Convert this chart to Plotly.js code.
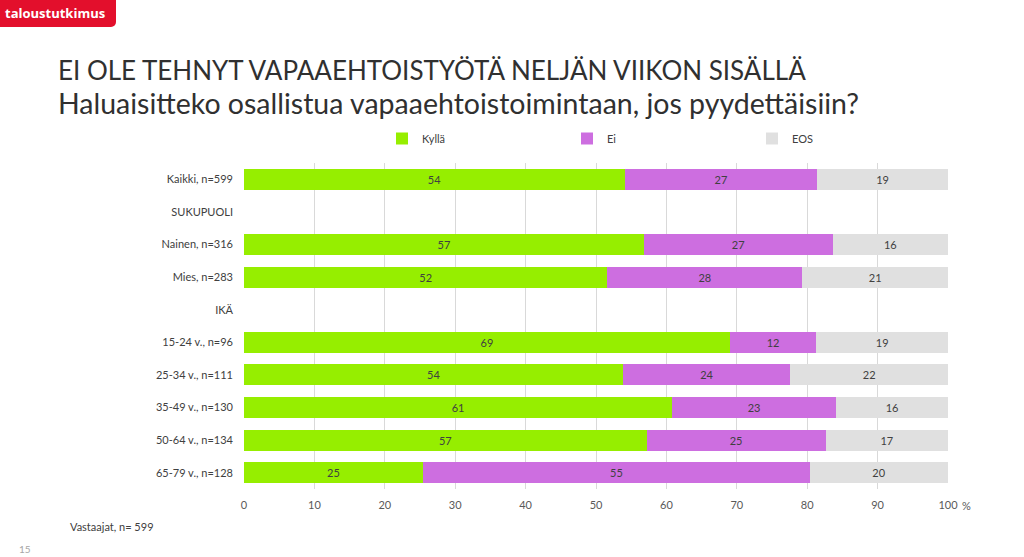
<!DOCTYPE html>
<html>
<head>
<meta charset="utf-8">
<script src="https://cdn.plot.ly/plotly-3.0.1.min.js"></script>
<style>
  html, body { margin: 0; padding: 0; background: #fff; }
  #chart { width: 1024px; height: 557px; }
  .logo {
    position: absolute; left: 0; top: 0; width: 116px; height: 27px; z-index: 10;
    background: #e30f2c; border-bottom-right-radius: 5px;
    color: #fff; font: bold 13px "Open Sans", sans-serif; line-height: 26px;
    padding-left: 5px; box-sizing: border-box;
  }
</style>
</head>
<body>
<div class="logo">taloustutkimus</div>
<div id="chart"></div>
<script>
// rows from top to bottom, group headers have no values
const categories = ['Kaikki, n=599', 'SUKUPUOLI', 'Nainen, n=316', 'Mies, n=283', 'IKÄ',
  '15-24 v., n=96', '25-34 v., n=111', '35-49 v., n=130', '50-64 v., n=134', '65-79 v., n=128'];
const kylla = [54.1, null, 56.8, 51.6, null, 69.0, 53.9, 60.8, 57.2, 25.4];
const ei    = [27.3, null, 26.8, 27.7, null, 12.3, 23.7, 23.3, 25.4, 55.0];
const eos   = [18.6, null, 16.4, 20.7, null, 18.7, 22.4, 15.9, 17.4, 19.6];
const xTicks = [0, 10, 20, 30, 40, 50, 60, 70, 80, 90, 100];

const textColor = '#404040';
const font = 'Lato, "Open Sans", sans-serif';

// plot area in pixels, used to place the loose texts in paper units
const plotL = 244, plotR = 948, plotT = 163, plotB = 489;
const px = (x) => (x - plotL) / (plotR - plotL);
const py = (y) => (plotB - y) / (plotB - plotT);

function series (name, values, color) {
  return {
    type: 'bar',
    orientation: 'h',
    name: name,
    x: values,
    y: categories,
    marker: { color: color },
    width: 0.64,
    texttemplate: '%{x:.0f}',
    textposition: 'inside',
    insidetextanchor: 'middle',
    textangle: 0,
    textfont: { color: textColor, size: 11, family: font },
    hoverinfo: 'skip'
  };
}

const data = [
  series('Kyllä', kylla, '#96ee00'),
  series('Ei', ei, '#cd6ee0'),
  series('EOS', eos, '#e0e0e0')
];

const titleFont = { family: font, color: '#303030' };

const layout = {
  width: 1024,
  height: 557,
  margin: { l: plotL, r: 1024 - plotR, t: plotT, b: 557 - plotB },
  paper_bgcolor: '#fff',
  plot_bgcolor: '#fff',
  barmode: 'stack',
  font: { family: font, color: textColor, size: 11 },
  showlegend: true,
  legend: {
    orientation: 'h',
    xref: 'container', x: 382 / 1024, xanchor: 'left',
    yref: 'container', y: 1 - 124 / 557, yanchor: 'top',
    entrywidth: 140,
    itemwidth: 30,
    traceorder: 'normal',
    font: { size: 11, color: textColor }
  },
  xaxis: {
    range: [0, 100],
    tickvals: xTicks,
    ticks: '',
    ticklabelstandoff: 8,
    showgrid: true,
    gridcolor: '#d9d9d9',
    gridwidth: 1,
    zeroline: false,
    showline: false,
    fixedrange: true,
    tickfont: { size: 11, color: '#595959' }
  },
  yaxis: {
    type: 'category',
    autorange: 'reversed',
    ticks: '',
    ticklabelstandoff: 10,
    showgrid: false,
    zeroline: false,
    fixedrange: true,
    tickfont: { size: 11, color: textColor }
  },
  annotations: [
    { text: 'EI OLE TEHNYT VAPAAEHTOISTYÖTÄ NELJÄN VIIKON SISÄLLÄ', xref: 'paper', yref: 'paper',
      x: px(56), y: py(70), xanchor: 'left', yanchor: 'middle', showarrow: false,
      font: Object.assign({ size: 26 }, titleFont) },
    { text: 'Haluaisitteko osallistua vapaaehtoistoimintaan, jos pyydettäisiin?', xref: 'paper', yref: 'paper',
      x: px(56), y: py(103), xanchor: 'left', yanchor: 'middle', showarrow: false,
      font: Object.assign({ size: 28.5 }, titleFont) },
    { text: '%', xref: 'paper', yref: 'paper', x: px(960), y: py(497), xanchor: 'left', yanchor: 'top',
      showarrow: false, font: { size: 11, color: '#595959' } },
    { text: 'Vastaajat, n= 599', xref: 'paper', yref: 'paper', x: px(68), y: py(518),
      xanchor: 'left', yanchor: 'top', showarrow: false, font: { size: 11, color: textColor } },
    { text: '15', xref: 'paper', yref: 'paper', x: px(17), y: py(541),
      xanchor: 'left', yanchor: 'top', showarrow: false, font: { size: 10, color: '#a6a6a6' } }
  ]
};

Plotly.newPlot('chart', data, layout, { displayModeBar: false, staticPlot: true });
</script>
</body>
</html>
